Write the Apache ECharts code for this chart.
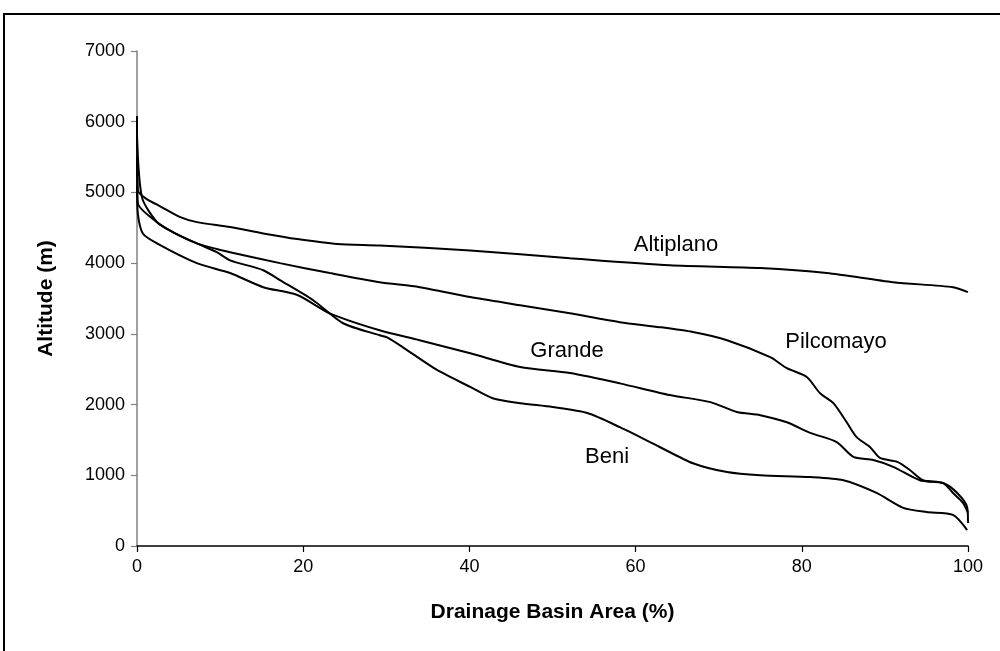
<!DOCTYPE html>
<html>
<head>
<meta charset="utf-8">
<script src="https://cdn.jsdelivr.net/npm/echarts@6/dist/echarts.min.js"></script>
<style>
html,body{margin:0;padding:0;background:#fff;}
#chart{width:1000px;height:651px;}
</style>
</head>
<body>
<div id="chart"></div>
<script>
// Drainage basin area (%) and altitude (m) for each hypsometric curve
var altiplanoX = [0, 0.1, 1, 3, 5.2, 7.2, 11.2, 15.2, 19.3, 24.1, 29.2, 40.1, 52.1, 64.1, 75, 83, 91, 98.2, 100];
var altiplanoY = [6080, 5030, 4920, 4790, 4650, 4580, 4510, 4420, 4340, 4270, 4250, 4180, 4070, 3970, 3930, 3860, 3730, 3660, 3590];

var pilcomayoX = [0, 0.6, 2.4, 4.3, 7.2, 9.6, 11.2, 17.2, 23.2, 29.2, 34, 40.1, 46.1, 52.1, 58.1, 62.9, 66.9, 71, 76.2, 78.2, 80.6, 82.2, 83.8, 85.4, 86.6, 88.2, 89.4, 91.5, 93, 94.6, 97, 98.2, 99.4, 100];
var pilcomayoY = [5800, 4930, 4580, 4440, 4280, 4200, 4155, 4000, 3860, 3730, 3660, 3520, 3405, 3290, 3165, 3095, 3025, 2910, 2670, 2515, 2390, 2160, 2020, 1750, 1540, 1400, 1245, 1190, 1075, 930, 890, 750, 610, 470];

var grandeX = [0, 0.1, 0.7, 2.4, 7.2, 11.2, 15.2, 19.3, 23.2, 29.2, 34, 40.1, 46.1, 52.1, 58.1, 64.1, 69, 72.2, 75, 78.2, 81, 84.2, 86.2, 88.6, 91, 94.2, 97, 98.7, 99.9, 100];
var grandeY = [5100, 4700, 4420, 4280, 4000, 3860, 3660, 3550, 3290, 3050, 2910, 2725, 2530, 2445, 2300, 2135, 2035, 1895, 1850, 1750, 1600, 1470, 1260, 1215, 1120, 930, 890, 750, 550, 325];

var beniX = [0, 0.1, 2.4, 4.3, 7.2, 9.6, 11.2, 15.2, 17.2, 21.2, 24.8, 29.2, 30.1, 32, 36.1, 40.1, 42.8, 46.1, 50, 54.2, 58.1, 62.9, 66.9, 71, 75, 81, 85, 89, 92.2, 95, 98.2, 99.9];
var beniY = [5500, 4850, 4580, 4440, 4280, 4155, 4040, 3900, 3760, 3475, 3150, 2980, 2950, 2810, 2490, 2250, 2090, 2020, 1965, 1880, 1680, 1400, 1170, 1045, 1000, 975, 930, 750, 540, 480, 440, 225];

var xTicks = [0, 20, 40, 60, 80, 100];
var yTicks = [0, 1000, 2000, 3000, 4000, 5000, 6000, 7000];
var curveNames = ['Altiplano', 'Pilcomayo', 'Grande', 'Beni'];

function pairs(xs, ys) { return xs.map(function (x, i) { return [x, ys[i]]; }); }

var chart = echarts.init(document.getElementById('chart'), null, {renderer: 'canvas'});
var FONT = '"Liberation Sans", Arial, sans-serif';

function lineSeries(name, xs, ys) {
  return {
    name: name, type: 'line', data: pairs(xs, ys), showSymbol: false, smooth: 0.25,
    lineStyle: {color: '#000', width: 2}, animation: false, z: 3
  };
}

var option = {
  animation: false,
  backgroundColor: '#fff',
  grid: {left: 137, right: 32, top: 51, bottom: 105, containLabel: false},
  xAxis: {
    type: 'value', min: 0, max: 100, interval: 20,
    name: 'Drainage Basin Area (%)', nameLocation: 'middle', nameGap: 56,
    nameTextStyle: {fontFamily: FONT, fontSize: 21, fontWeight: 'bold', color: '#000'},
    axisLine: {show: true, onZero: false, lineStyle: {color: '#000', width: 1.5}},
    axisTick: {show: true, length: 6, lineStyle: {color: '#000', width: 1.2}},
    axisLabel: {fontFamily: FONT, fontSize: 18, color: '#000', margin: 12,
      formatter: function (v) { return xTicks.indexOf(v) >= 0 ? String(v) : ''; }},
    splitLine: {show: false}
  },
  yAxis: {
    type: 'value', min: 0, max: 7000, interval: 1000,
    name: 'Altitude (m)', nameLocation: 'middle', nameGap: 80,
    nameTextStyle: {fontFamily: FONT, fontSize: 21, fontWeight: 'bold', color: '#000'},
    axisLine: {show: true, lineStyle: {color: '#808080', width: 1.5}},
    axisTick: {show: true, length: 6, lineStyle: {color: '#808080', width: 1.2}},
    axisLabel: {fontFamily: FONT, fontSize: 18, color: '#000', margin: 12,
      formatter: function (v) { return yTicks.indexOf(v) >= 0 ? String(v) : ''; }},
    splitLine: {show: false}
  },
  series: [
    lineSeries(curveNames[0], altiplanoX, altiplanoY),
    lineSeries(curveNames[1], pilcomayoX, pilcomayoY),
    lineSeries(curveNames[2], grandeX, grandeY),
    lineSeries(curveNames[3], beniX, beniY)
  ],
  graphic: [
    {type: 'rect', shape: {x: 4, y: 14, width: 1100, height: 800}, style: {fill: 'none', stroke: '#000', lineWidth: 2}, silent: true, z: 10},
    {type: 'text', x: 676, y: 245, style: {text: curveNames[0], font: '22px ' + FONT, fill: '#000', textAlign: 'center', textVerticalAlign: 'middle'}},
    {type: 'text', x: 836, y: 342, style: {text: curveNames[1], font: '22px ' + FONT, fill: '#000', textAlign: 'center', textVerticalAlign: 'middle'}},
    {type: 'text', x: 567, y: 351, style: {text: curveNames[2], font: '22px ' + FONT, fill: '#000', textAlign: 'center', textVerticalAlign: 'middle'}},
    {type: 'text', x: 607, y: 457, style: {text: curveNames[3], font: '22px ' + FONT, fill: '#000', textAlign: 'center', textVerticalAlign: 'middle'}}
  ]
};
chart.setOption(option);
</script>
</body>
</html>
